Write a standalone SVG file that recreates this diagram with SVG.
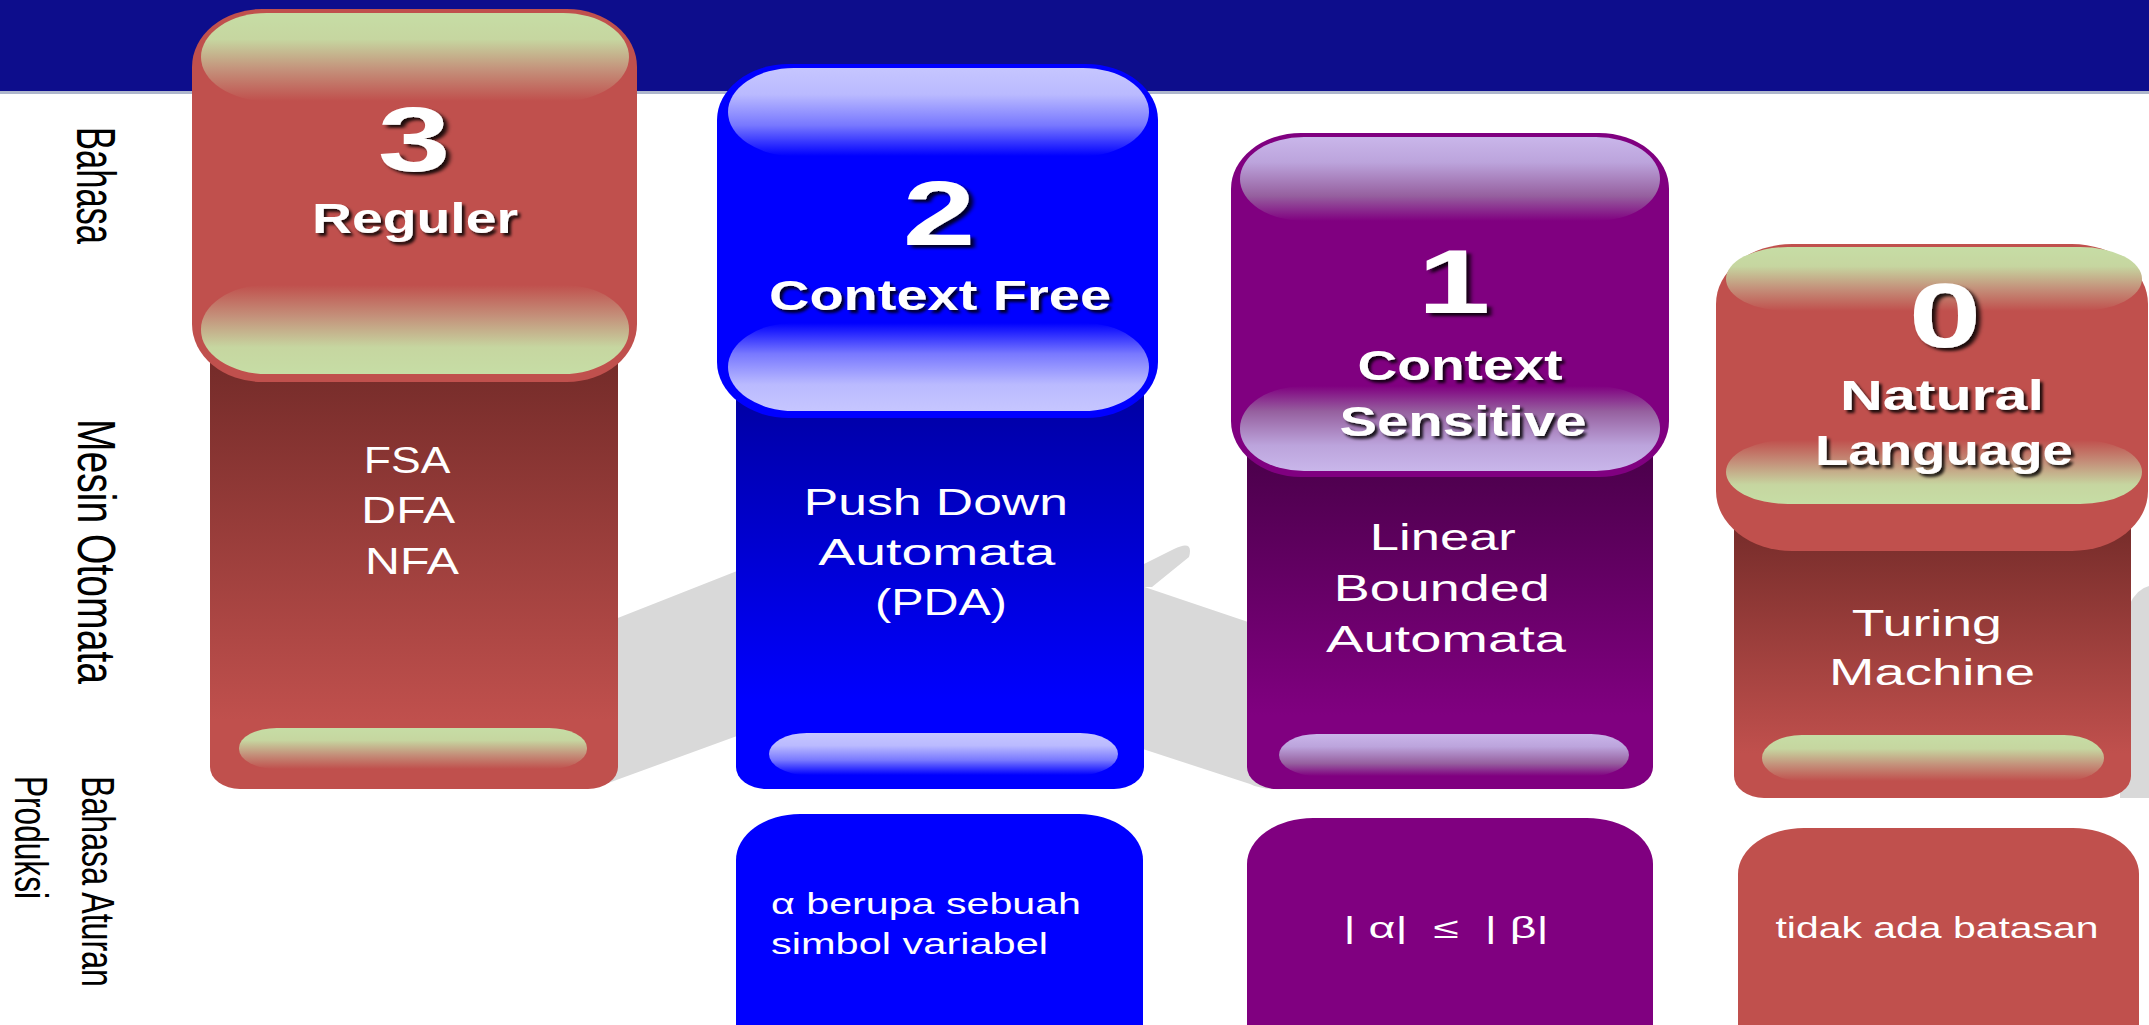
<svg xmlns="http://www.w3.org/2000/svg" width="2149" height="1025" viewBox="0 0 2149 1025">
  <defs>
    <style>
      .lbl { font-family: "Liberation Sans", Arial, sans-serif; fill: #000; }
      .ttl { font-family: "Liberation Sans", Arial, sans-serif; font-weight: bold; fill: #fff; filter: url(#shadow); }
      .num { font-family: "Liberation Sans", Arial, sans-serif; font-weight: bold; fill: #fff; font-size: 90px; filter: url(#shadow); }
      .body { font-family: "Liberation Sans", Arial, sans-serif; fill: #fff; font-size: 37px; }
      .rule { font-family: "Liberation Sans", Arial, sans-serif; fill: #fff; font-size: 29px; white-space: pre; }
      .red { fill: #C0504D; }
      .blue { fill: #0000FF; }
      .purple { fill: #800080; }
      .grey { fill: #D9D9D9; }
    </style>
    <filter id="shadow" x="-10%" y="-20%" width="130%" height="160%">
      <feDropShadow dx="3" dy="3" stdDeviation="1.6" flood-color="#000" flood-opacity="0.85"/>
    </filter>
    <!-- column body shading: dark at the top, full colour lower down -->
    <linearGradient id="bodyRed" x1="0" y1="0" x2="0" y2="1">
      <stop offset="0" stop-color="#6E2826"/>
      <stop offset="0.85" stop-color="#C0504D"/>
    </linearGradient>
    <linearGradient id="bodyBlue" x1="0" y1="0" x2="0" y2="1">
      <stop offset="0" stop-color="#00009A"/>
      <stop offset="0.8" stop-color="#0000FF"/>
    </linearGradient>
    <linearGradient id="bodyPurple" x1="0" y1="0" x2="0" y2="1">
      <stop offset="0" stop-color="#440044"/>
      <stop offset="0.8" stop-color="#800080"/>
    </linearGradient>
    <!-- glossy highlights: light on top fading into the base colour -->
    <linearGradient id="hiRedTop" x1="0" y1="0" x2="0" y2="1">
      <stop offset="0" stop-color="#C6DDA5"/>
      <stop offset="0.3" stop-color="#C6D6A0"/>
      <stop offset="0.65" stop-color="#C4907A"/>
      <stop offset="1" stop-color="#C0504D"/>
    </linearGradient>
    <linearGradient id="hiRedBot" x1="0" y1="1" x2="0" y2="0">
      <stop offset="0" stop-color="#C6DDA5"/>
      <stop offset="0.3" stop-color="#C6D6A0"/>
      <stop offset="0.65" stop-color="#C4907A"/>
      <stop offset="1" stop-color="#C0504D"/>
    </linearGradient>
    <linearGradient id="hiBlueTop" x1="0" y1="0" x2="0" y2="1">
      <stop offset="0" stop-color="#C6C6FF"/>
      <stop offset="0.3" stop-color="#BABAFF"/>
      <stop offset="0.65" stop-color="#7878FF"/>
      <stop offset="1" stop-color="#0000FF"/>
    </linearGradient>
    <linearGradient id="hiBlueBot" x1="0" y1="1" x2="0" y2="0">
      <stop offset="0" stop-color="#C6C6FF"/>
      <stop offset="0.3" stop-color="#BABAFF"/>
      <stop offset="0.65" stop-color="#7878FF"/>
      <stop offset="1" stop-color="#0000FF"/>
    </linearGradient>
    <linearGradient id="hiPurpleTop" x1="0" y1="0" x2="0" y2="1">
      <stop offset="0" stop-color="#C9B6EA"/>
      <stop offset="0.3" stop-color="#BCA4DC"/>
      <stop offset="0.7" stop-color="#96609F"/>
      <stop offset="1" stop-color="#800080"/>
    </linearGradient>
    <linearGradient id="hiPurpleBot" x1="0" y1="1" x2="0" y2="0">
      <stop offset="0" stop-color="#C9B6EA"/>
      <stop offset="0.3" stop-color="#BCA4DC"/>
      <stop offset="0.7" stop-color="#96609F"/>
      <stop offset="1" stop-color="#800080"/>
    </linearGradient>
  </defs>

  <rect x="0" y="0" width="2149" height="1025" fill="#FFFFFF"/>

  <!-- header band -->
  <rect x="0" y="0" width="2149" height="91" fill="#0D0D8C"/>
  <rect x="0" y="91" width="2149" height="3" fill="#AEB6CC"/>

  <!-- grey backdrop swoosh behind the columns -->
  <g id="backdrop">
    <path class="grey" d="M 600,625 L 737,571 L 1140,566 L 1174,549 Q 1194,539 1189,557 L 1152,587 L 1140,587 L 737,736 L 600,786 Z"/>
    <path class="grey" d="M 1100,572 L 1260,626 L 1300,640 L 1300,789 L 1284,789 Q 1262,790 1250,784 L 1100,735 Z"/>
    <path class="grey" d="M 2120,798 L 2120,650 Q 2124,592 2149,586 L 2149,798 Z"/>
  </g>

  <!-- side captions -->
  <g id="caption-bahasa">
    <text class="lbl" transform="translate(77,127) rotate(90)" font-size="55" textLength="117" lengthAdjust="spacingAndGlyphs">Bahasa</text>
  </g>
  <g id="caption-mesin">
    <text class="lbl" transform="translate(78,419) rotate(90)" font-size="54" textLength="265" lengthAdjust="spacingAndGlyphs">Mesin Otomata</text>
  </g>
  <g id="caption-aturan">
    <text class="lbl" transform="translate(82,776) rotate(90)" font-size="47" textLength="211" lengthAdjust="spacingAndGlyphs">Bahasa Aturan</text>
    <text class="lbl" transform="translate(15,776) rotate(90)" font-size="47" textLength="123" lengthAdjust="spacingAndGlyphs">Produksi</text>
  </g>

  <!-- type 3: regular -->
  <g id="type3-reguler">
    <rect x="210" y="330" width="408" height="459" rx="30" ry="22" fill="url(#bodyRed)"/>
    <rect x="239" y="728" width="348" height="41" rx="38" ry="20" fill="url(#hiRedTop)"/>
    <rect class="red" x="192" y="9" width="445" height="373" rx="70" ry="58"/>
    <rect x="201" y="13" width="428" height="88" rx="66" ry="44" fill="url(#hiRedTop)"/>
    <rect x="201" y="285" width="428" height="89" rx="66" ry="44" fill="url(#hiRedBot)"/>
    <text class="num" transform="translate(414,171) scale(1.45,1)" text-anchor="middle">3</text>
    <text class="ttl" x="415" y="233" font-size="42" text-anchor="middle" textLength="206" lengthAdjust="spacingAndGlyphs">Reguler</text>
    <text class="body" text-anchor="middle">
      <tspan x="411" y="473" textLength="84" lengthAdjust="spacingAndGlyphs">FSA</tspan>
      <tspan x="412" y="523" textLength="91" lengthAdjust="spacingAndGlyphs">DFA</tspan>
      <tspan x="412" y="574" textLength="94" lengthAdjust="spacingAndGlyphs">NFA</tspan>
    </text>
  </g>

  <!-- type 2: context free -->
  <g id="type2-context-free">
    <rect x="736" y="360" width="408" height="429" rx="30" ry="22" fill="url(#bodyBlue)"/>
    <rect x="769" y="733" width="349" height="42" rx="38" ry="21" fill="url(#hiBlueTop)"/>
    <rect class="blue" x="717" y="64" width="441" height="354" rx="72" ry="56"/>
    <rect x="728" y="68" width="421" height="88" rx="66" ry="44" fill="url(#hiBlueTop)"/>
    <rect x="728" y="323" width="421" height="88" rx="66" ry="44" fill="url(#hiBlueBot)"/>
    <text class="num" transform="translate(939,245) scale(1.45,1)" text-anchor="middle">2</text>
    <text class="ttl" x="940" y="310" font-size="42" text-anchor="middle" textLength="342" lengthAdjust="spacingAndGlyphs">Context Free</text>
    <text class="body" text-anchor="middle">
      <tspan x="941" y="515" textLength="264" lengthAdjust="spacingAndGlyphs">Push Down</tspan>
      <tspan x="942" y="565" textLength="237" lengthAdjust="spacingAndGlyphs">Automata</tspan>
      <tspan x="941" y="615" textLength="132" lengthAdjust="spacingAndGlyphs">(PDA)</tspan>
    </text>
  </g>
  <g id="rule2">
    <rect class="blue" x="736" y="814" width="407" height="260" rx="64" ry="46"/>
    <text class="rule" x="771" y="914" textLength="310" lengthAdjust="spacingAndGlyphs">α berupa sebuah</text>
    <text class="rule" x="771" y="954" textLength="277" lengthAdjust="spacingAndGlyphs">simbol variabel</text>
  </g>

  <!-- type 1: context sensitive -->
  <g id="type1-context-sensitive">
    <rect x="1247" y="420" width="406" height="369" rx="30" ry="22" fill="url(#bodyPurple)"/>
    <rect x="1279" y="734" width="350" height="42" rx="38" ry="21" fill="url(#hiPurpleTop)"/>
    <rect class="purple" x="1231" y="133" width="438" height="344" rx="70" ry="56"/>
    <rect x="1240" y="137" width="420" height="84" rx="64" ry="42" fill="url(#hiPurpleTop)"/>
    <rect x="1240" y="386" width="420" height="85" rx="64" ry="42" fill="url(#hiPurpleBot)"/>
    <text class="num" transform="translate(1454,313) scale(1.45,1)" text-anchor="middle">1</text>
    <text class="ttl" x="1460" y="380" font-size="42" text-anchor="middle" textLength="205" lengthAdjust="spacingAndGlyphs">Context</text>
    <text class="ttl" x="1463" y="436" font-size="42" text-anchor="middle" textLength="247" lengthAdjust="spacingAndGlyphs">Sensitive</text>
    <text class="body" text-anchor="middle">
      <tspan x="1448" y="550" textLength="146" lengthAdjust="spacingAndGlyphs">Linear</tspan>
      <tspan x="1447" y="601" textLength="216" lengthAdjust="spacingAndGlyphs">Bounded</tspan>
      <tspan x="1446" y="652" textLength="240" lengthAdjust="spacingAndGlyphs">Automata</tspan>
    </text>
  </g>
  <g id="rule1">
    <rect class="purple" x="1247" y="818" width="406" height="260" rx="66" ry="46"/>
    <text class="rule" x="1446" y="938" text-anchor="middle" textLength="205" lengthAdjust="spacingAndGlyphs">| α|  ≤  | β|</text>
  </g>

  <!-- type 0: natural language -->
  <g id="type0-natural-language">
    <rect x="1734" y="500" width="397" height="298" rx="30" ry="22" fill="url(#bodyRed)"/>
    <rect x="1762" y="735" width="342" height="46" rx="40" ry="23" fill="url(#hiRedTop)"/>
    <rect class="red" x="1716" y="244" width="432" height="307" rx="76" ry="60"/>
    <rect x="1726" y="247" width="416" height="64" rx="62" ry="32" fill="url(#hiRedTop)"/>
    <rect x="1726" y="440" width="416" height="64" rx="62" ry="32" fill="url(#hiRedBot)"/>
    <text class="num" transform="translate(1945,347) scale(1.45,1)" text-anchor="middle">0</text>
    <text class="ttl" x="1942" y="410" font-size="42" text-anchor="middle" textLength="204" lengthAdjust="spacingAndGlyphs">Natural</text>
    <text class="ttl" x="1944" y="465" font-size="42" text-anchor="middle" textLength="258" lengthAdjust="spacingAndGlyphs">Language</text>
    <text class="body" text-anchor="middle">
      <tspan x="1932" y="636" textLength="150" lengthAdjust="spacingAndGlyphs">Turing</tspan>
      <tspan x="1932" y="685" textLength="206" lengthAdjust="spacingAndGlyphs">Machine</tspan>
    </text>
  </g>
  <g id="rule0">
    <rect class="red" x="1738" y="828" width="401" height="260" rx="66" ry="46"/>
    <text class="rule" x="1937" y="938" text-anchor="middle" textLength="323" lengthAdjust="spacingAndGlyphs">tidak ada batasan</text>
  </g>

  <!-- connectors: none in this chart -->
  <g id="connectors"/>
</svg>
